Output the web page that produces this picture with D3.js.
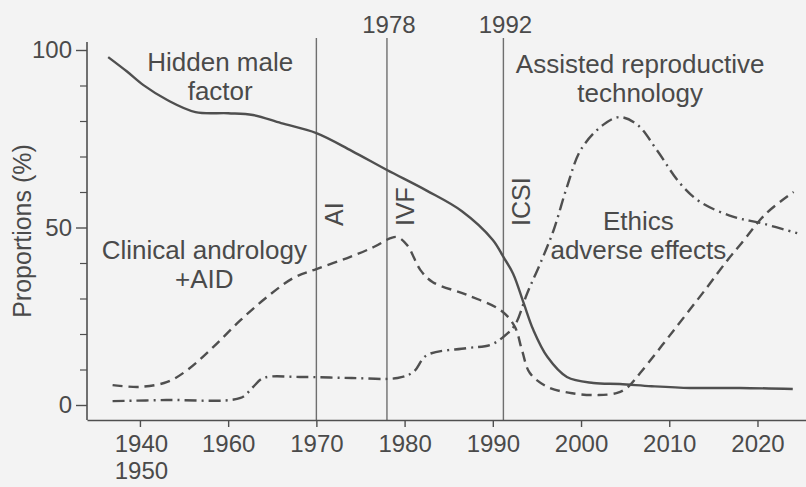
<!DOCTYPE html>
<html>
<head>
<meta charset="utf-8">
<script src="https://cdn.jsdelivr.net/npm/d3@7/dist/d3.min.js"></script>
<style>
  html, body { margin: 0; padding: 0; background: #f3f3f3; }
  svg { display: block; }
  text { font-family: "Liberation Sans", Arial, Helvetica, sans-serif; fill: #4a4a4a; }
</style>
</head>
<body>
<svg id="chart" width="806" height="487"></svg>
<script>
// ---------------- data ----------------
const hiddenYears  = [1946.4,1948.5,1950.4,1953.1,1956.3,1960,1962.8,1966,1970,1974,1978,1982.5,1986.5,1990,1991.2,1992.3,1993.5,1994.6,1996.2,1998.4,2001.4,2004.4,2008,2012.4,2018,2024];
const hiddenValues = [98,94,90.1,85.9,82.5,82.2,81.7,79.4,76.6,71.6,66.2,60.4,54.6,46.5,41.7,37,28.7,21.1,13.5,7.9,6.2,5.9,5.3,4.8,4.8,4.5];

const androYears  = [1946.9,1950,1953.1,1955.4,1958.3,1961.4,1964.4,1967.4,1970,1973.5,1976.5,1978.4,1979.2,1980.3,1981.8,1983.2,1987.1,1991,1992.5,1993.3,1994.2,1996.2,1999,2002,2004.1,2005.2,2006.7,2010.5,2014.3,2016.6,2018,2021,2024.1];
const androValues = [5.6,5.1,6.5,9.9,16.3,23.9,30.4,35.8,38.3,41.4,44.5,47,47.3,45,38,34.6,31,26.5,22,15.5,9,5.1,3.3,2.8,3.4,4.8,9,21,33.2,40.8,45,54,60];

const artYears  = [1946.9,1953,1961.4,1962.8,1964,1968.2,1974,1979.2,1981,1982.5,1987,1989.7,1991.2,1992.5,1993.9,1995.4,1996.9,1998.4,2000,2002.5,2004.4,2006.4,2008.6,2011.2,2013.5,2017.3,2020.3,2024.5];
const artValues = [1.1,1.4,2,5,7.6,7.9,7.6,7.6,9.3,14,16,16.9,19.2,22.5,31.5,40,49.3,61.4,72,78.9,81.1,78.9,71.8,62.5,57.2,53,51.3,48.4];

const xTickYears  = [1950,1960,1970,1980,1990,2000,2010,2020];
const xTickLabels = [["1940","1950"],["1960"],["1970"],["1980"],["1990"],["2000"],["2010"],["2020"]];
const yTickValues = [0,50,100];
const yMinorTicks = [10,20,30,40,60,70,80,90];

const eventYears  = [1970, 1978, 1991.2];
const eventTopLabels = ["", "1978", "1992"];
const eventSideLabels = ["AI", "IVF", "ICSI"];

const annotations = [
  {year: 1959.1, value: 94.1, lines: ["Hidden male", "factor"]},
  {year: 1957.3, value: 41.1, lines: ["Clinical andrology", "+AID"]},
  {year: 2006.7, value: 93.5, lines: ["Assisted reproductive", "technology"]},
  {year: 2006.5, value: 49.3, lines: ["Ethics", "adverse effects"]}
];

// ---------------- layout ----------------
const svg = d3.select("#chart");
const x = d3.scaleLinear().domain([1944.0, 2025.5]).range([87, 806]);
const y = d3.scaleLinear().domain([0, 100]).range([405, 50]);
const axisY = 420;   // pixel row of the x axis
const plotTop = 42;
const ink = "#4f4f4f";

// event lines
const ev = svg.append("g");
eventYears.forEach((yr, i) => {
  ev.append("line")
    .attr("x1", x(yr)).attr("x2", x(yr))
    .attr("y1", 38).attr("y2", axisY)
    .attr("stroke", "#6e6e6e").attr("stroke-width", 1.4);
  if (eventTopLabels[i]) {
    ev.append("text").attr("x", x(yr) + 2).attr("y", 33)
      .attr("text-anchor", "middle").style("font-size", "24px")
      .text(eventTopLabels[i]);
  }
  ev.append("text")
    .attr("transform", `translate(${x(yr) + 27},226) rotate(-90)`)
    .attr("text-anchor", "start").style("font-size", "25px")
    .text(eventSideLabels[i]);
});

// axes
const yAxis = d3.axisLeft(y).tickValues(yTickValues).tickSize(11).tickPadding(4).tickSizeOuter(0);
const gy = svg.append("g").attr("transform", "translate(87,0)").call(yAxis);
gy.select(".domain").remove();
gy.selectAll("text").style("font-size", "24px").style("fill", "#4a4a4a")
  .style("font-family", '"Liberation Sans", Arial, sans-serif');
gy.selectAll("line").attr("stroke", ink).attr("stroke-width", 1.4);
const gyMinor = svg.append("g").attr("transform", "translate(87,0)")
  .call(d3.axisLeft(y).tickValues(yMinorTicks).tickSize(7).tickFormat("").tickSizeOuter(0));
gyMinor.select(".domain").remove();
gyMinor.selectAll("line").attr("stroke", ink).attr("stroke-width", 1.2);
svg.append("line").attr("x1", 87).attr("x2", 87).attr("y1", plotTop).attr("y2", axisY)
  .attr("stroke", ink).attr("stroke-width", 1.6);

const xAxis = d3.axisBottom(x).tickValues(xTickYears).tickSize(7).tickSizeOuter(0).tickFormat("");
const gx = svg.append("g").attr("transform", `translate(0,${axisY})`).call(xAxis);
gx.select(".domain").attr("stroke", ink).attr("stroke-width", 1.6);
gx.selectAll("line").attr("stroke", ink).attr("stroke-width", 1.4);
gx.selectAll(".tick").each(function(d, i) {
  const t = d3.select(this).append("text").attr("text-anchor", "middle")
    .style("font-size", "24px").style("fill", "#4a4a4a")
    .style("font-family", '"Liberation Sans", Arial, sans-serif');
  xTickLabels[i].forEach((lab, k) => {
    t.append("tspan").attr("x", (i === 0 ? 1 : 0)).attr("y", 32 + k * 27).text(lab);
  });
});

// y title
svg.append("text")
  .attr("transform", "translate(31,231) rotate(-90)")
  .attr("text-anchor", "middle").style("font-size", "25px")
  .text("Proportions (%)");

// series
const line = d3.line().x(d => x(d[0])).y(d => y(d[1])).curve(d3.curveCatmullRom.alpha(0.5));
function draw(years, values, dash) {
  svg.append("path").datum(d3.zip(years, values))
    .attr("d", line).attr("fill", "none")
    .attr("stroke", ink).attr("stroke-width", 2.4)
    .attr("stroke-dasharray", dash);
}
draw(hiddenYears, hiddenValues, null);
draw(androYears, androValues, "10,6");
draw(artYears, artValues, "12,5,2,5");

// annotations
annotations.forEach(a => {
  const t = svg.append("text").attr("text-anchor", "middle").style("font-size", "26px");
  a.lines.forEach((l, k) => {
    t.append("tspan").attr("x", x(a.year)).attr("y", y(a.value) + k * 29).text(l);
  });
});
</script>
</body>
</html>
